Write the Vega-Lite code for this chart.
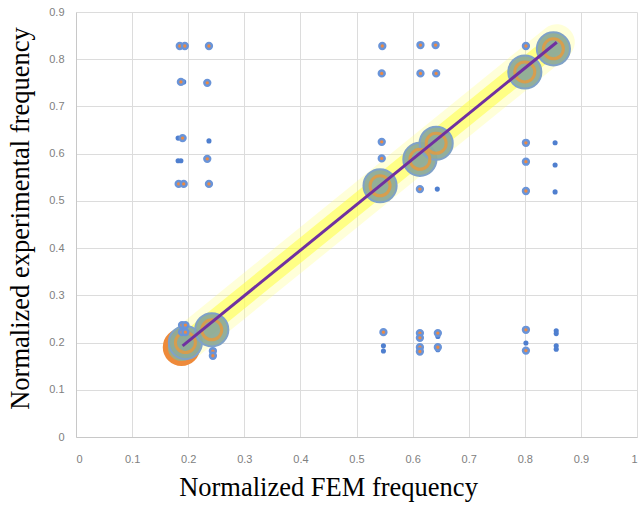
{
  "$schema": "https://vega.github.io/schema/vega-lite/v6.json",
  "width": 561,
  "height": 425,
  "autosize": "none",
  "padding": {"left": 76, "top": 12, "right": 5, "bottom": 70},
  "background": "white",
  "config": {"view": {"stroke": null}},
  "datasets": {
    "pts": [
      {"x": 0.185, "y": 0.828, "t": "dot"}, {"x": 0.194, "y": 0.828, "t": "dot"}, {"x": 0.237, "y": 0.828, "t": "dot"},
      {"x": 0.192, "y": 0.752, "t": "small"}, {"x": 0.187, "y": 0.752, "t": "dot"}, {"x": 0.234, "y": 0.75, "t": "dot"},
      {"x": 0.182, "y": 0.633, "t": "small"}, {"x": 0.19, "y": 0.633, "t": "dot"}, {"x": 0.237, "y": 0.627, "t": "small"},
      {"x": 0.182, "y": 0.585, "t": "small"}, {"x": 0.187, "y": 0.585, "t": "small"}, {"x": 0.234, "y": 0.589, "t": "dot"},
      {"x": 0.183, "y": 0.536, "t": "dot"}, {"x": 0.192, "y": 0.536, "t": "dot"}, {"x": 0.237, "y": 0.536, "t": "dot"},
      {"x": 0.189, "y": 0.237, "t": "dot"}, {"x": 0.195, "y": 0.237, "t": "dot"}, {"x": 0.189, "y": 0.222, "t": "dot"}, {"x": 0.195, "y": 0.222, "t": "dot"},
      {"x": 0.244, "y": 0.182, "t": "dot"}, {"x": 0.244, "y": 0.172, "t": "dot"},
      {"x": 0.546, "y": 0.828, "t": "dot"}, {"x": 0.545, "y": 0.77, "t": "dot"}, {"x": 0.545, "y": 0.625, "t": "dot"}, {"x": 0.545, "y": 0.59, "t": "dot"},
      {"x": 0.548, "y": 0.222, "t": "dot"}, {"x": 0.548, "y": 0.193, "t": "small"}, {"x": 0.548, "y": 0.182, "t": "small"},
      {"x": 0.614, "y": 0.83, "t": "dot"}, {"x": 0.614, "y": 0.77, "t": "dot"}, {"x": 0.613, "y": 0.525, "t": "dot"},
      {"x": 0.613, "y": 0.22, "t": "dot"}, {"x": 0.613, "y": 0.21, "t": "dot"}, {"x": 0.613, "y": 0.19, "t": "dot"}, {"x": 0.613, "y": 0.181, "t": "dot"},
      {"x": 0.641, "y": 0.83, "t": "dot"}, {"x": 0.642, "y": 0.77, "t": "dot"}, {"x": 0.644, "y": 0.525, "t": "small"},
      {"x": 0.645, "y": 0.22, "t": "dot"}, {"x": 0.645, "y": 0.213, "t": "small"}, {"x": 0.645, "y": 0.19, "t": "dot"}, {"x": 0.645, "y": 0.185, "t": "small"},
      {"x": 0.802, "y": 0.828, "t": "dot"}, {"x": 0.802, "y": 0.623, "t": "dot"}, {"x": 0.802, "y": 0.583, "t": "dot"}, {"x": 0.802, "y": 0.521, "t": "dot"},
      {"x": 0.802, "y": 0.227, "t": "dot"}, {"x": 0.802, "y": 0.199, "t": "small"}, {"x": 0.802, "y": 0.183, "t": "dot"},
      {"x": 0.854, "y": 0.623, "t": "small"}, {"x": 0.854, "y": 0.576, "t": "small"}, {"x": 0.854, "y": 0.519, "t": "small"},
      {"x": 0.856, "y": 0.225, "t": "small"}, {"x": 0.856, "y": 0.219, "t": "small"}, {"x": 0.856, "y": 0.193, "t": "small"}, {"x": 0.856, "y": 0.186, "t": "small"}
    ],
    "bubbles": [
      {"x": 0.188, "y": 0.19, "t": "orange"},
      {"x": 0.195, "y": 0.2, "t": "green"},
      {"x": 0.242, "y": 0.227, "t": "green"},
      {"x": 0.542, "y": 0.532, "t": "green"},
      {"x": 0.613, "y": 0.588, "t": "green"},
      {"x": 0.642, "y": 0.622, "t": "green"},
      {"x": 0.8, "y": 0.773, "t": "green"},
      {"x": 0.851, "y": 0.822, "t": "green"}
    ],
    "fit": [
      {"x": 0.19, "y": 0.193},
      {"x": 0.857, "y": 0.836}
    ]
  },
  "encoding": {
    "x": {
      "field": "x", "type": "quantitative",
      "scale": {"domain": [0, 1], "nice": false, "zero": false},
      "axis": {
        "title": "Normalized FEM frequency",
        "titleFont": "Liberation Serif", "titleFontSize": 26.5, "titleFontWeight": "normal", "titleColor": "#000000",
        "titlePadding": 10, "titleX": 252, "titleAnchor": "middle",
        "values": [0, 0.1, 0.2, 0.3, 0.4, 0.5, 0.6, 0.7, 0.8, 0.9, 1],
        "format": ".1~f",
        "labelFont": "Liberation Sans", "labelFontSize": 11, "labelColor": "#808080", "labelPadding": 16,
        "ticks": false, "domainColor": "#c8c8c8", "gridColor": "#dcdcdc", "grid": true
      }
    },
    "y": {
      "field": "y", "type": "quantitative",
      "scale": {"domain": [0, 0.9], "nice": false, "zero": false},
      "axis": {
        "title": "Normalized experimental frequency",
        "titleFont": "Liberation Serif", "titleFontSize": 26.5, "titleFontWeight": "normal", "titleColor": "#000000",
        "titlePadding": 14, "titleY": 206, "titleAnchor": "middle",
        "values": [0, 0.1, 0.2, 0.3, 0.4, 0.5, 0.6, 0.7, 0.8, 0.9],
        "format": ".1~f",
        "labelFont": "Liberation Sans", "labelFontSize": 11, "labelColor": "#808080", "labelPadding": 12,
        "ticks": false, "domainColor": "#c8c8c8", "gridColor": "#dcdcdc", "grid": true
      }
    }
  },
  "layer": [
    {"data": {"name": "fit"}, "mark": {"type": "line", "color": "#ffff80", "strokeWidth": 36, "opacity": 0.3, "strokeCap": "round"}},
    {"data": {"name": "fit"}, "mark": {"type": "line", "color": "#ffff40", "strokeWidth": 20, "opacity": 0.55, "strokeCap": "round"}},
    {"data": {"name": "bubbles"}, "transform": [{"filter": "datum.t == 'orange'"}], "mark": {"type": "circle", "size": 1050, "fill": "#a3ab80", "fillOpacity": 1, "stroke": "#ee8a3a", "strokeWidth": 5}},
    {"data": {"name": "bubbles"}, "transform": [{"filter": "datum.t == 'green'"}], "mark": {"type": "circle", "size": 1100, "fill": "#8dab98", "fillOpacity": 0.95, "stroke": "#7fa2c8", "strokeWidth": 2}},
    {"data": {"name": "bubbles"}, "transform": [{"filter": "datum.t == 'green'"}], "mark": {"type": "circle", "size": 400, "filled": false, "stroke": "#e89a3c", "strokeWidth": 3, "opacity": 0.8}},
    {"data": {"name": "pts"}, "transform": [{"filter": "datum.t == 'small'"}], "mark": {"type": "circle", "size": 26, "color": "#4f7fcf", "opacity": 1}},
    {"data": {"name": "pts"}, "transform": [{"filter": "datum.t == 'dot'"}], "mark": {"type": "circle", "size": 34, "fill": "#ea8a45", "fillOpacity": 1, "stroke": "#6a94d8", "strokeWidth": 2.5}},
    {"data": {"name": "fit"}, "mark": {"type": "line", "color": "#7030a0", "strokeWidth": 3}}
  ]
}
